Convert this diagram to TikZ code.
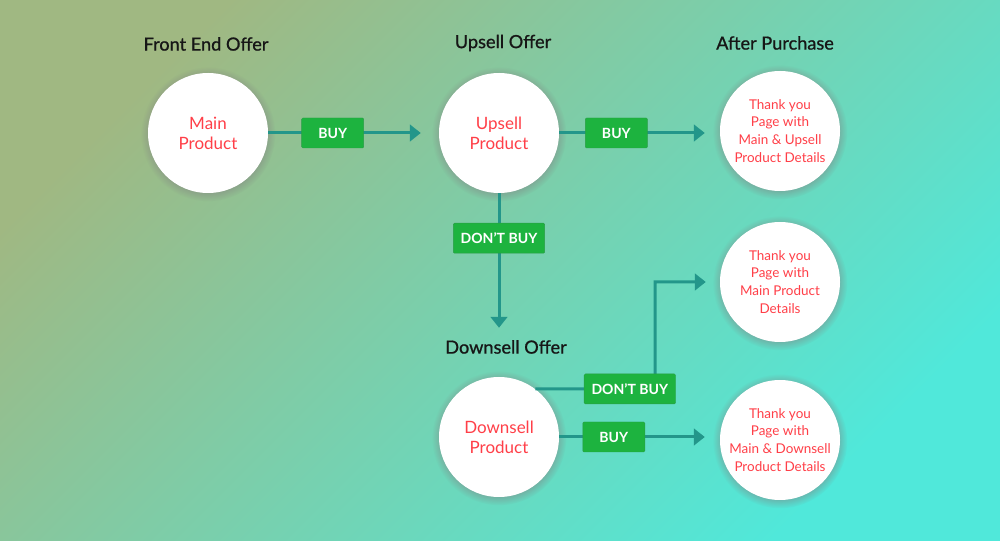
\documentclass[tikz,border=0pt]{standalone}
\usepackage{fontspec}
\setmainfont{Lato}
\newfontfamily\headfont{Lato}[FakeBold=0.9]
\usetikzlibrary{arrows.meta,shadows}

\definecolor{bgtopleft}{HTML}{A0B882}
\definecolor{bgbottomright}{HTML}{50E8DA}
\definecolor{flowteal}{HTML}{23968A}
\definecolor{boxgreen}{HTML}{1DB33F}
\definecolor{boxedge}{HTML}{2A9E46}
\definecolor{prodred}{HTML}{FF3F48}
\definecolor{headink}{HTML}{161616}

\tikzset{
  offer/.style={circle, fill=white, minimum size=36mm, inner sep=0pt, align=center,
    text=prodred, font=\fontsize{14.5}{17}\selectfont,
    circular drop shadow={shadow xshift=0pt, shadow yshift=-0.8pt, shadow scale=1.12, opacity=0.5}},
  thanks/.style={offer, font=\fontsize{11.5}{15.3}\selectfont},
  heading/.style={text=headink, font=\headfont\fontsize{15.5}{18}\selectfont},
  choice/.style={rectangle, rounded corners=1pt, fill=boxgreen, draw=boxedge, line width=0.4pt,
    text=white, font=\bfseries\fontsize{12}{14}\selectfont,
    minimum height=9mm, minimum width=18.6mm, inner xsep=2.2mm},
  flow/.style={draw=flowteal, line width=0.9mm, -{Triangle[length=3.3mm,width=5mm]}}
}

\begin{document}
\begin{tikzpicture}[x=0.3mm,y=0.3mm]
\useasboundingbox (0,0) rectangle (1000,541);
\shade[top color=bgtopleft, bottom color=bgbottomright, shading angle=45]
  (0,0) rectangle (1000,541);

% headings
\node[heading] (fronthead) at (206,497) {Front End Offer};
\node[heading] (upsellhead) at (503,498) {Upsell Offer};
\node[heading] (afterhead) at (775,498) {After Purchase};
\node[heading] (downhead) at (506,194) {Downsell Offer};

% offers
\node[offer] (main) at (208,408) {Main\\Product};
\node[offer] (upsell) at (499,408) {Upsell\\Product};
\node[offer] (downsell) at (499,104) {Downsell\\Product};

% thank you pages
\node[thanks] (thanksup) at (780,410) {Thank you\\Page with\\Main \& Upsell\\Product Details};
\node[thanks] (thanksmain) at (780,259) {Thank you\\Page with\\Main Product\\Details};
\node[thanks] (thanksdown) at (780,101) {Thank you\\Page with\\Main \& Downsell\\Product Details};

\coordinate (bend) at (655,152);

% flows
\draw[flow, shorten >=5.4mm] (main) -- node[choice, pos=0.378] (buymain) {BUY} (upsell);
\draw[flow, shorten >=4.5mm] (upsell.east) -- node[choice, pos=0.356] (buyup) {BUY} (upsell.east -| thanksup.west);
\draw[flow, shorten >=14.7mm] (upsell) -- node[choice, pos=0.245] (skipup) {DON'T BUY} (downsell);
\draw[flow, shorten >=4.2mm] (downsell.53) -- node[choice, pos=0.79] (skipdown) {DON'T BUY} (bend) |- (thanksmain.west);
\draw[flow, shorten >=4.5mm] (downsell.east) -- node[choice, pos=0.34] (buydown) {BUY} (downsell.east -| thanksdown.west);
\end{tikzpicture}
\end{document}
